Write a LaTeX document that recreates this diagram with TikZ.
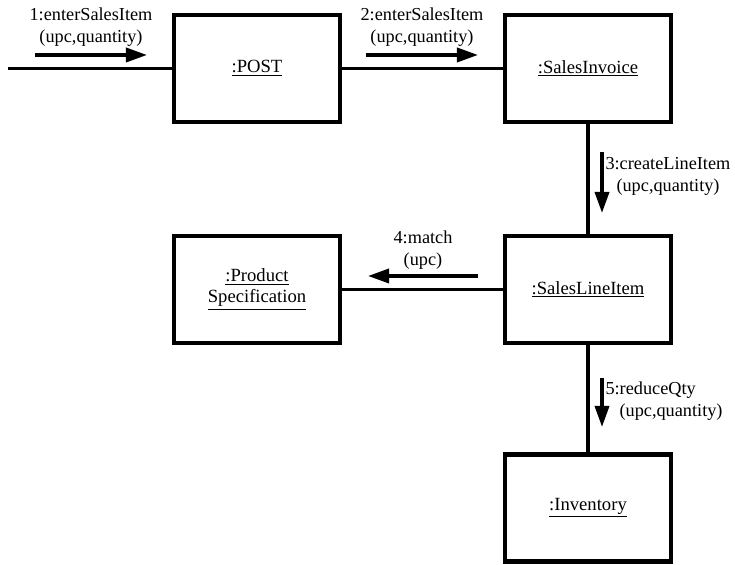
\documentclass[tikz,border=0pt]{standalone}
\usepackage{fontspec}
\setmainfont{Liberation Serif}
\usetikzlibrary{arrows.meta}

\begin{document}
\begin{tikzpicture}
\tikzset{obj/.style={draw,line width=2.3pt,minimum width=3.32cm,minimum height=2.14cm,align=center,font=\fontsize{10.6}{12}\selectfont}}
\tikzset{link/.style={line width=2.2pt}}
\tikzset{msg/.style={line width=2pt,-{Triangle[length=12pt,width=8pt]}}}
\tikzset{txt/.style={align=center,font=\fontsize{10.4}{12.2}\selectfont,inner sep=1pt}}
\useasboundingbox (0,0) rectangle (14.7,11.3);

\node (post) at (5.14,9.93) [obj] {\underline{:POST}};
\node (inv) at (11.76,9.93) [obj] {\underline{:SalesInvoice}};
\node (spec) at (5.14,5.51) [obj] {\underline{:Product}\\\underline{Specification}};
\node (line) at (11.76,5.51) [obj] {\underline{:SalesLineItem}};
\node (stock) at (11.76,1.14) [obj] {\underline{:Inventory}};
\coordinate (start) at (0.16,9.93);

\path
(start) edge [link] (post)
(post) edge [link] (inv)
(inv) edge [link] (line)
(line) edge [link] (spec)
(line) edge [link] (stock);

% messages
\coordinate (m1a) at (0.7,10.2);
\coordinate (m1b) at (2.94,10.2);
\coordinate (m2a) at (7.32,10.2);
\coordinate (m2b) at (9.56,10.2);
\coordinate (m3a) at (12.04,8.26);
\coordinate (m3b) at (12.04,7.04);
\coordinate (m4a) at (9.56,5.78);
\coordinate (m4b) at (7.36,5.78);
\coordinate (m5a) at (12.04,3.74);
\coordinate (m5b) at (12.04,2.76);

\path
(m1a) edge [msg] node[txt,above=3pt] {1:enterSalesItem\\(upc,quantity)} (m1b)
(m2a) edge [msg] node[txt,above=3pt] {2:enterSalesItem\\(upc,quantity)} (m2b)
(m3a) edge [msg] node[txt,align=left,right=0pt,pos=0.4] {3:createLineItem\\\hspace*{0.22cm}(upc,quantity)} (m3b)
(m4a) edge [msg] node[txt,above=2pt] {4:match\\(upc)} (m4b)
(m5a) edge [msg] node[txt,align=left,right=0pt,pos=0.47] {5:reduceQty\\\hspace*{0.28cm}(upc,quantity)} (m5b);
\end{tikzpicture}
\end{document}
